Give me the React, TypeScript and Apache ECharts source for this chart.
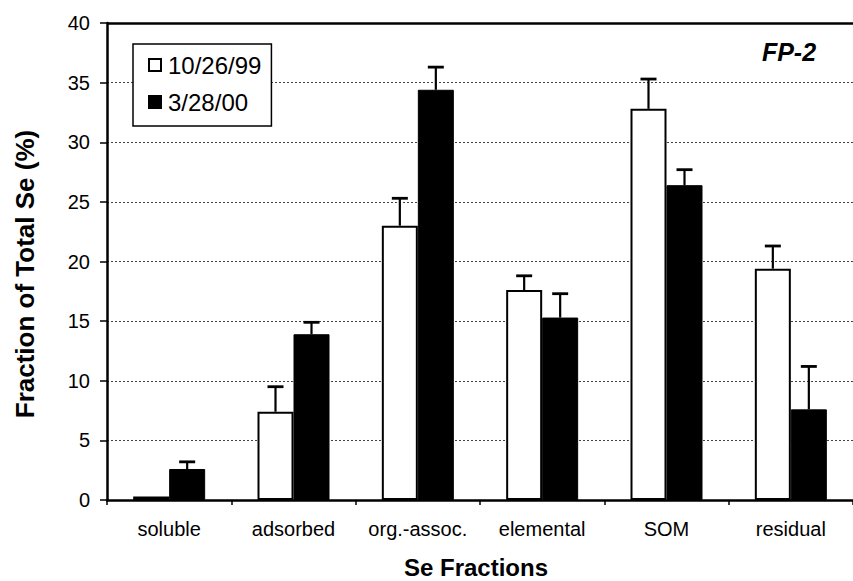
import React, { useEffect, useRef } from "react";
import * as echarts from "echarts";

const categories = ["soluble", "adsorbed", "org.-assoc.", "elemental", "SOM", "residual"];
const seriesNames = ["10/26/99", "3/28/00"];
const values1999 = [0.3, 7.4, 23.0, 17.6, 32.8, 19.4];
const err1999 = [0, 2.1, 2.3, 1.2, 2.5, 1.9];
const values2000 = [2.6, 13.9, 34.4, 15.3, 26.4, 7.6];
const err2000 = [0.6, 1.0, 1.9, 2.0, 1.3, 3.6];
const yTicks = { min: 0, max: 40, interval: 5 };

const FONT = "'Liberation Sans', Arial, sans-serif";
const BAR_W = 36;

function errSeries(values: number[], errs: number[], offset: number) {
  return {
    type: "custom",
    silent: true,
    z: 5,
    data: values.map((v, i) => [i, v, errs[i]]),
    renderItem: (params: any, api: any) => {
      const cat = api.value(0);
      const v = api.value(1);
      const e = api.value(2);
      if (!e) return null;
      const base = api.coord([cat, v]);
      const top = api.coord([cat, v + e]);
      const x = base[0] + offset;
      const style = { stroke: "#000", lineWidth: 2.2 };
      return {
        type: "group",
        children: [
          { type: "line", shape: { x1: x, y1: base[1], x2: x, y2: top[1] }, style },
          { type: "line", shape: { x1: x - 8, y1: top[1], x2: x + 8, y2: top[1] }, style: { stroke: "#000", lineWidth: 2.8 } },
        ],
      };
    },
  };
}

export default function App() {
  const ref = useRef<HTMLDivElement>(null);
  useEffect(() => {
    if (!ref.current) return;
    const chart = echarts.init(ref.current, null, { renderer: "svg" });
    chart.setOption({
      animation: false,
      backgroundColor: "#fff",
      textStyle: { fontFamily: FONT, color: "#000" },
      grid: { left: 107, top: 23, bottom: 81, right: -5, containLabel: false },
      legend: {
        data: seriesNames,
        orient: "vertical",
        left: 133,
        top: 44,
        padding: [9, 10, 12, 15],
        itemGap: 13,
        itemWidth: 12,
        itemHeight: 12,
        icon: "rect",
        borderColor: "#000",
        borderWidth: 1.5,
        backgroundColor: "#fff",
        textStyle: { fontSize: 24, fontFamily: FONT, color: "#000", padding: [0, 0, 0, 2] },
      },
      xAxis: {
        type: "category",
        data: categories,
        axisLine: { lineStyle: { color: "#000", width: 2.5 } },
        axisTick: { show: true, length: 5, lineStyle: { color: "#000", width: 1.5 } },
        axisLabel: { fontSize: 20, color: "#000", margin: 19, fontFamily: FONT, interval: 0 },
      },
      yAxis: {
        type: "value",
        min: yTicks.min,
        max: yTicks.max,
        interval: yTicks.interval,
        axisLine: { show: true, lineStyle: { color: "#000", width: 2.5 } },
        axisTick: { show: true, length: 7, lineStyle: { color: "#000", width: 1.5 } },
        axisLabel: { fontSize: 20, color: "#000", margin: 17, fontFamily: FONT },
        splitLine: { show: true, lineStyle: { color: "#444", width: 1, type: [2, 2] } },
      },
      series: [
        {
          name: seriesNames[0],
          type: "bar",
          data: values1999,
          barWidth: BAR_W,
          barGap: "0%",
          itemStyle: { color: "#fff", borderColor: "#000", borderWidth: 2 },
          markLine: {
            silent: true,
            symbol: "none",
            label: { show: false },
            lineStyle: { color: "#000", width: 2.5, type: "solid" },
            data: [{ yAxis: yTicks.max }],
          },
        },
        {
          name: seriesNames[1],
          type: "bar",
          data: values2000,
          barWidth: BAR_W,
          barGap: "0%",
          itemStyle: { color: "#000", borderColor: "#000", borderWidth: 1 },
        },
        errSeries(values1999, err1999, -BAR_W / 2),
        errSeries(values2000, err2000, BAR_W / 2),
      ],
      graphic: [
        {
          type: "text",
          x: 25,
          y: 274,
          rotation: Math.PI / 2,
          style: {
            text: "Fraction of Total Se (%)",
            font: `bold 26px ${FONT}`,
            fill: "#000",
            textAlign: "center",
            textVerticalAlign: "middle",
          },
        },
        {
          type: "text",
          x: 476,
          y: 567,
          style: {
            text: "Se Fractions",
            font: `bold 24px ${FONT}`,
            fill: "#000",
            textAlign: "center",
            textVerticalAlign: "middle",
          },
        },
        {
          type: "text",
          x: 789,
          y: 52,
          style: {
            text: "FP-2",
            font: `italic bold 25px ${FONT}`,
            fill: "#000",
            textAlign: "center",
            textVerticalAlign: "middle",
          },
        },
      ],
    });
    return () => chart.dispose();
  }, []);
  return (
    <div
      ref={ref}
      style={{ position: "fixed", left: 0, top: 0, width: 853, height: 581, background: "#fff" }}
    />
  );
}
